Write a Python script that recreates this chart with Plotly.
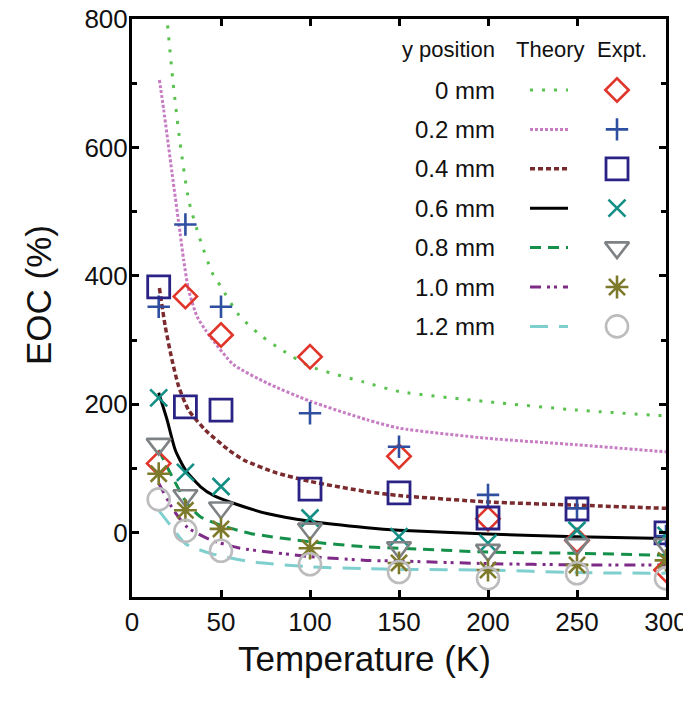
import plotly.graph_objects as go

# ---------------- data ----------------
T_expt = [15, 30, 50, 100, 150, 200, 250, 300]
expt_0mm = [108, 368, 308, 274, 119, 22, -12, -58]
expt_02mm = [352, 480, 352, 186, 134, 59, 38, -5]
expt_04mm = [383, 196, 191, 68, 62, 23, 37, 0]
expt_06mm = [210, 94, 72, 23, -6, -16, 4, -4]
expt_08mm = [138, 58, 39, 6, -23, -27, -18, -18]
expt_10mm = [92, 35, 6, -24, -47, -58, -50, -43]
expt_12mm = [52, 3, -28, -49, -61, -71, -63, -71]

T_th_0mm = [20, 23, 27, 32, 38, 45, 50, 60, 72, 84, 100, 130, 150, 200, 250, 300]
th_0mm = [790, 703, 607, 516, 459, 405, 383, 339, 308, 285, 259, 235, 220, 204, 191, 182]
T_th_02mm = [15.4, 17.8, 22.5, 27, 29, 31.8, 36.5, 41.2, 44, 57, 76, 100, 132, 150, 200, 250, 300]
th_02mm = [705, 659, 560, 467, 425, 378, 337, 316, 305, 262, 233, 205, 176, 163, 147, 137, 126]
T_th_04mm = [15.4, 18.7, 22.5, 26.2, 31.8, 41.2, 54.3, 63, 81.5, 100, 132, 150, 200, 250, 300]
th_04mm = [381, 321, 269, 228, 191, 160, 129, 113, 93, 80, 64, 58, 48, 43, 38]
T_th_06mm = [15, 19.7, 24.3, 30, 38.4, 45.8, 57, 75.8, 100, 132, 150, 200, 250, 300]
th_06mm = [218, 176, 129, 98, 72, 58, 46, 30, 18, 8, 4, -2, -6, -9]
T_th_08mm = [15, 21.5, 30.9, 38.4, 49.6, 66.5, 100, 132, 150, 200, 250, 300]
th_08mm = [129, 93, 46, 25, 12, -1, -14, -22, -24, -30, -32, -35]
T_th_10mm = [15, 23.4, 30.9, 44, 60.8, 100, 132, 150, 200, 250, 300]
th_10mm = [77, 35, 9, -11, -24, -37, -43, -44, -48, -50, -50]
T_th_12mm = [15, 21.5, 30, 44, 66.5, 100, 132, 150, 200, 250, 300]
th_12mm = [35, 12, -17, -32, -45, -53, -56, -57, -58, -62, -63]

labels = ["0 mm", "0.2 mm", "0.4 mm", "0.6 mm", "0.8 mm", "1.0 mm", "1.2 mm"]
x_ticks = [0, 50, 100, 150, 200, 250, 300]
y_ticks = [0, 200, 400, 600, 800]

# ---------------- styles ----------------
FONT = "Liberation Sans, Arial, Helvetica, sans-serif"
line_styles = [
    dict(color="#59c24f", width=3, dash="3px,9px"),
    dict(color="#c77dc4", width=3, dash="3px,2px"),
    dict(color="#7b2b2e", width=3.5, dash="5px,3px"),
    dict(color="#000000", width=3, dash="solid"),
    dict(color="#15904a", width=3, dash="11px,7px"),
    dict(color="#7d2b87", width=3, dash="11px,6px,3px,4px,3px,6px"),
    dict(color="#7fcfcf", width=3, dash="18px,11px"),
]
markers = [
    dict(symbol="diamond-open", size=18, color="#e0352b", line=dict(width=2.6, color="#e0352b")),
    dict(symbol="cross-thin-open", size=16, color="#2f4fa0", line=dict(width=2.6, color="#2f4fa0")),
    dict(symbol="square-open", size=22, color="#2a2385", line=dict(width=2.8, color="#2a2385")),
    dict(symbol="x-thin-open", size=17, color="#138f85", line=dict(width=2.6, color="#138f85")),
    dict(symbol="triangle-down-open", size=21, color="#7e8285", line=dict(width=2.6, color="#7e8285")),
    dict(symbol="asterisk-open", size=19, color="#7e7a2c", line=dict(width=2.6, color="#7e7a2c")),
    dict(symbol="circle-open", size=22, color="#bcbcbe", line=dict(width=2.6, color="#bcbcbe")),
]

theory_T = [T_th_0mm, T_th_02mm, T_th_04mm, T_th_06mm, T_th_08mm, T_th_10mm, T_th_12mm]
theory_y = [th_0mm, th_02mm, th_04mm, th_06mm, th_08mm, th_10mm, th_12mm]
expt_y = [expt_0mm, expt_02mm, expt_04mm, expt_06mm, expt_08mm, expt_10mm, expt_12mm]

fig = go.Figure()
for i in range(7):
    fig.add_trace(go.Scatter(x=theory_T[i], y=theory_y[i], mode="lines",
                             line=dict(shape="spline", smoothing=0.6, **line_styles[i]),
                             showlegend=False, hoverinfo="skip"))
for i in range(7):
    fig.add_trace(go.Scatter(x=T_expt, y=expt_y[i], mode="markers",
                             marker=markers[i], showlegend=False))

# page body has an 8px margin, so the figure starts 8px in from the page corner
OFF = 8
W, H = 691 - OFF, 711 - 2 * OFF
# plot-area edges in page pixels
L, R, TOP, BOT = 132, 666, 19, 597

# ---------------- manual legend table (pixel overlay axes) ----------------
row0, dy = 90, 39.4
line_x0, line_x1, mark_x, text_x = 530, 568, 617, 497
for i in range(7):
    yy = row0 + i * dy
    fig.add_trace(go.Scatter(x=[line_x0, line_x1], y=[yy, yy], mode="lines",
                             line=line_styles[i], xaxis="x2", yaxis="y2",
                             showlegend=False, hoverinfo="skip"))
    fig.add_trace(go.Scatter(x=[mark_x], y=[yy], mode="markers", marker=markers[i],
                             xaxis="x2", yaxis="y2", showlegend=False, hoverinfo="skip"))
    fig.add_annotation(x=text_x, y=yy, xref="x2", yref="y2", text=labels[i],
                       showarrow=False, xanchor="right", yanchor="middle",
                       font=dict(family=FONT, size=24, color="#111"))
for txt, xx, anc in [("y position", 497, "right"), ("Theory", 550, "center"), ("Expt.", 622, "center")]:
    fig.add_annotation(x=xx, y=49, xref="x2", yref="y2", text=txt, showarrow=False,
                       xanchor=anc, yanchor="middle", font=dict(family=FONT, size=22, color="#111"))

# axis titles
fig.add_annotation(x=(364 - L) / (R - L), y=(BOT - 658) / (BOT - TOP), xref="paper", yref="paper",
                   text="Temperature (K)", showarrow=False, xanchor="center", yanchor="middle",
                   font=dict(family=FONT, size=35, color="#111"))
fig.add_annotation(x=(38 - L) / (R - L), y=(BOT - 295) / (BOT - TOP), xref="paper", yref="paper",
                   text="EOC (%)", textangle=-90, showarrow=False, xanchor="center", yanchor="middle",
                   font=dict(family=FONT, size=35, color="#111"))

axis_common = dict(showgrid=False, zeroline=False, showline=True, linecolor="black", linewidth=3,
                   mirror="ticks", ticks="inside", ticklen=7, tickwidth=2.5, tickcolor="black",
                   automargin=False, ticklabeloverflow="allow",
                   tickfont=dict(family=FONT, size=26, color="#111"))
fig.update_layout(
    width=W, height=H,
    margin=dict(l=L - OFF, r=W - (R - OFF), t=TOP - OFF, b=H - (BOT - OFF), pad=0),
    paper_bgcolor="white", plot_bgcolor="white",
    xaxis=dict(range=[0, 300], tickvals=x_ticks, **axis_common),
    yaxis=dict(range=[-100, 800], tickvals=y_ticks, ticklabelstandoff=-4,
               minor=dict(tickvals=[-100, 100, 300, 500, 700], ticks="inside", ticklen=5,
                          tickwidth=2.5, tickcolor="black"),
               **axis_common),
    xaxis2=dict(range=[L, R], overlaying="x", visible=False, fixedrange=True),
    yaxis2=dict(range=[BOT, TOP], overlaying="y", visible=False, fixedrange=True),
    showlegend=False,
)

fig.write_html("out.html")
